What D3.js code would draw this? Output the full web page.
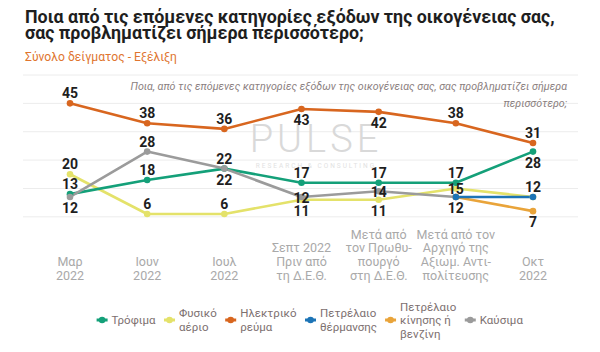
<!DOCTYPE html>
<html>
<head>
<meta charset="utf-8">
<script src="https://cdn.jsdelivr.net/npm/d3@7"></script>
<style>
  body { margin: 0; background: #fff; }
  svg { display: block; }
</style>
</head>
<body>
<svg id="chart" width="600" height="352"></svg>
<script>
// categories (x axis) - each label broken in lines
var categories = [
    ['Μαρ', '2022'],
    ['Ιουν', '2022'],
    ['Ιουλ', '2022'],
    ['Σεπτ 2022', 'Πριν από', 'τη Δ.Ε.Θ.'],
    ['Μετά από', 'τον Πρωθυ-', 'πουργό', 'στη Δ.Ε.Θ.'],
    ['Μετά από τον', 'Αρχηγό της', 'Αξιωμ. Αντι-', 'πολίτευσης'],
    ['Οκτ', '2022']
];

var trofima     = [13, 18, 22, 17, 17, 17, 28];
var fysikoAerio = [20, 6, 6, 11, 11, 15, 12];
var ilektriko   = [45, 38, 36, 43, 42, 38, 31];
var thermansis  = [null, null, null, null, null, 12, 12];
var kinisis     = [null, null, null, null, null, 12, 7];
var kafsima     = [12, 28, 22, 12, 14, 12, null];

var gridTicks = [5, 15, 25, 35, 45, 55];

var title = ['Ποια από τις επόμενες κατηγορίες εξόδων της οικογένειας σας,',
             'σας προβληματίζει σήμερα περισσότερο;'];
var subtitle = 'Σύνολο δείγματος - Εξέλιξη';
var note = ['Ποια, από τις επόμενες κατηγορίες εξόδων της οικογένειας σας, σας προβληματίζει σήμερα',
            'περισσότερο;'];

// where each value label goes: a = above, b = below, c = on the point, null = none
var series = [
    { name: ['Φυσικό', 'αέριο'], values: fysikoAerio, color: '#e4e26a', pos: ['a', 'a', 'a', 'b', 'b', 'c', null] },
    { name: ['Ηλεκτρικό', 'ρεύμα'], values: ilektriko, color: '#d8661f', pos: ['a', 'a', 'a', 'b', 'b', 'a', 'a'] },
    { name: ['Τρόφιμα'], values: trofima, color: '#14a079', pos: ['a', 'a', 'b', 'a', 'a', 'a', 'b'] },
    { name: ['Καύσιμα'], values: kafsima, color: '#9b9b9b', pos: ['b', 'a', 'a', 'c', 'c', 'b', null] },
    { name: ['Πετρέλαιο', 'κίνησης ή', 'βενζίνη'], values: kinisis, color: '#e9a43a', pos: [null, null, null, null, null, null, 'b'] },
    { name: ['Πετρέλαιο', 'θέρμανσης'], values: thermansis, color: '#1c74b6', pos: [null, null, null, null, null, null, 'a'] }
];
var legendOrder = [2, 0, 1, 5, 4, 3];

const width = 600, height = 352;
const x = d3.scalePoint().domain(d3.range(categories.length)).range([70, 533]);
const y = d3.scaleLinear().domain([0, 55]).range([231, 75]);

const svg = d3.select('#chart').attr('viewBox', [0, 0, width, height]);
svg.append('rect').attr('width', width).attr('height', height).attr('fill', '#fff');

function fit(sel, target) {
    const w = sel.node().getComputedTextLength();
    const fs = parseFloat(sel.attr('font-size'));
    sel.attr('font-size', fs * target / w);
}

// titles
const t1 = svg.append('text').attr('x', 25).attr('y', 23).attr('font-family', 'Roboto, sans-serif')
    .attr('font-weight', 'bold').attr('font-size', 15).attr('fill', '#1e1e1e').text(title[0]);
fit(t1, 530);
svg.append('text').attr('x', 25).attr('y', 39).attr('font-family', 'Roboto, sans-serif')
    .attr('font-weight', 'bold').attr('font-size', t1.attr('font-size')).attr('fill', '#1e1e1e').text(title[1]);
const st = svg.append('text').attr('x', 25).attr('y', 61).attr('font-family', 'Roboto, sans-serif')
    .attr('font-size', 12).attr('fill', '#e0752f').text(subtitle);
fit(st, 152);

// grid
svg.append('g').selectAll('line').data(gridTicks).join('line')
    .attr('x1', 23).attr('x2', 578)
    .attr('y1', d => y(d)).attr('y2', d => y(d))
    .attr('stroke', '#ececec').attr('stroke-width', 1);

// watermark
svg.append('text').attr('x', 316).attr('y', 152).attr('text-anchor', 'middle')
    .attr('font-family', 'Roboto, sans-serif').attr('font-weight', 300).attr('font-size', 38)
    .attr('letter-spacing', 4).attr('fill', '#d9d9d9').text('PULSE');
svg.append('text').attr('x', 316).attr('y', 168).attr('text-anchor', 'middle')
    .attr('font-family', 'Roboto, sans-serif').attr('font-size', 6.5)
    .attr('letter-spacing', 2).attr('fill', '#e2e2e2').text('RESEARCH & CONSULTING');

// note
const nt = svg.append('text').attr('x', 567).attr('y', 90).attr('text-anchor', 'end')
    .attr('font-family', 'Roboto, sans-serif').attr('font-style', 'italic').attr('font-size', 11)
    .attr('fill', '#8a7e7e').text(note[0]);
fit(nt, 437);
svg.append('text').attr('x', 567).attr('y', 107).attr('text-anchor', 'end')
    .attr('font-family', 'Roboto, sans-serif').attr('font-style', 'italic').attr('font-size', nt.attr('font-size'))
    .attr('fill', '#8a7e7e').text(note[1]);

// x axis labels, bottom aligned
const xl = svg.append('g').attr('font-family', 'Roboto, sans-serif').attr('font-size', 12.5)
    .attr('fill', '#a9a9a9').attr('text-anchor', 'middle');
categories.forEach(function (lines, i) {
    const t = xl.append('text').attr('x', x(i));
    lines.forEach(function (l, j) {
        t.append('tspan').attr('x', x(i)).attr('y', 280 - (lines.length - 1 - j) * 13.8).text(l);
    });
});

// lines
const line = d3.line().defined(d => d != null).x((d, i) => x(i)).y(d => y(d));
series.forEach(function (s) {
    svg.append('path').attr('d', line(s.values))
        .attr('fill', 'none').attr('stroke', s.color).attr('stroke-width', 2.6)
        .attr('stroke-linejoin', 'round');
});
series.forEach(function (s) {
    svg.append('g').selectAll('circle')
        .data(s.values.map((v, i) => [i, v]).filter(d => d[1] != null))
        .join('circle')
        .attr('cx', d => x(d[0])).attr('cy', d => y(d[1])).attr('r', 3.3)
        .attr('fill', s.color);
});

// value labels
const off = { a: -5, b: 16, c: 6 };
series.forEach(function (s) {
    svg.append('g').selectAll('text')
        .data(s.values.map((v, i) => [i, v, s.pos[i]]).filter(d => d[1] != null && d[2]))
        .join('text')
        .attr('x', d => x(d[0])).attr('y', d => y(d[1]) + off[d[2]])
        .attr('text-anchor', 'middle').attr('font-family', 'Roboto, sans-serif')
        .attr('font-weight', 'bold').attr('font-size', 14).attr('fill', '#1e1e1e')
        .text(d => d[1]);
});

// legend, centred under the plot
const lg = svg.append('g').attr('font-family', 'Roboto, sans-serif').attr('font-size', 11.5).attr('fill', '#7d7070');
let lx = 0;
const ly = 320;
legendOrder.forEach(function (k) {
    const s = series[k];
    lg.append('line').attr('x1', lx).attr('x2', lx + 11).attr('y1', ly).attr('y2', ly)
        .attr('stroke', s.color).attr('stroke-width', 3);
    lg.append('circle').attr('cx', lx + 5.5).attr('cy', ly).attr('r', 3.3).attr('fill', s.color);
    const t = lg.append('text');
    const n = s.name.length;
    s.name.forEach(function (l, j) {
        t.append('tspan').attr('x', lx + 15).attr('y', ly + 4 + (j - (n - 1) / 2) * 13.5).text(l);
    });
    lx = lx + 15 + t.node().getBBox().width + 8;
});
lg.attr('transform', 'translate(' + (310 - (lx - 8) / 2) + ',0)');
</script>
</body>
</html>
